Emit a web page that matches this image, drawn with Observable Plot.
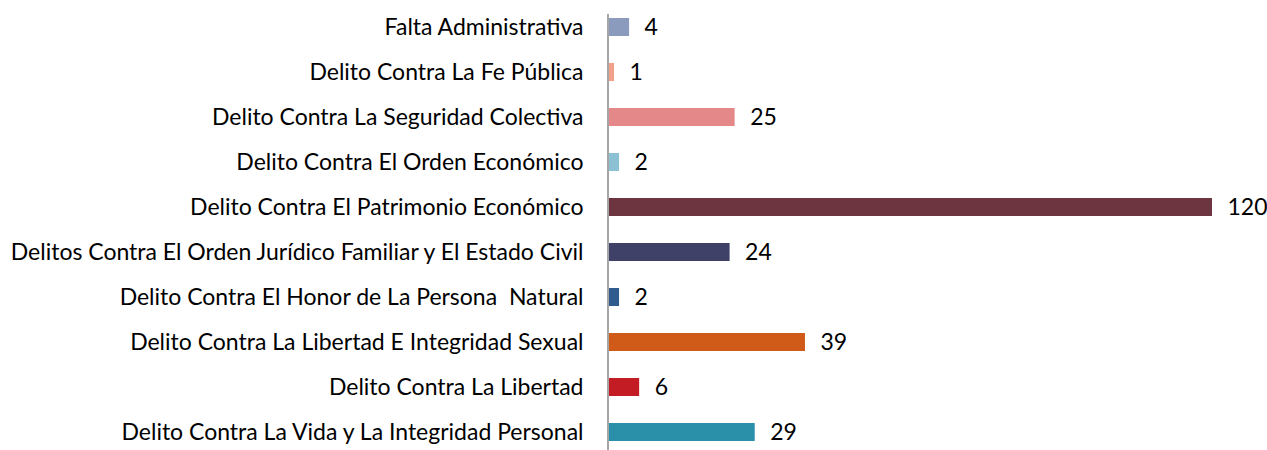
<!DOCTYPE html>
<html>
<head>
<meta charset="utf-8">
<script src="https://cdn.jsdelivr.net/npm/d3@7"></script>
<script src="https://cdn.jsdelivr.net/npm/@observablehq/plot@0.6"></script>
<style>
  html, body { margin: 0; padding: 0; background: #fff; }
  #chart svg { display: block; }
</style>
</head>
<body>
<div id="chart"></div>
<script>
const categories = [
  "Falta Administrativa",
  "Delito Contra La Fe Pública",
  "Delito Contra La Seguridad Colectiva",
  "Delito Contra El Orden Económico",
  "Delito Contra El Patrimonio Económico",
  "Delitos Contra El Orden Jurídico Familiar y El Estado Civil",
  "Delito Contra El Honor de La Persona  Natural",
  "Delito Contra La Libertad E Integridad Sexual",
  "Delito Contra La Libertad",
  "Delito Contra La Vida y La Integridad Personal"
];
const values = [4, 1, 25, 2, 120, 24, 2, 39, 6, 29];
const colors = ["#8a9bbd", "#f2a08a", "#e4888a", "#8bc1d2", "#6d3540", "#3f4168", "#2f5b8f", "#d05a18", "#c41c24", "#2a8fa9"];

const data = categories.map((c, i) => ({category: c, value: values[i], color: colors[i]}));

const font = "Lato, 'Liberation Sans', sans-serif";

const chart = Plot.plot({
  width: 1267,
  height: 450,
  marginLeft: 609,
  marginRight: 55,
  marginTop: 16,
  marginBottom: 8,
  style: {fontFamily: font, fontSize: "23px", color: "#000", background: "#fff"},
  x: {domain: [0, 120], axis: null},
  y: {domain: categories, paddingInner: 0.6, paddingOuter: 0, label: null},
  marks: [
    Plot.axisY({tickSize: 0, tickPadding: 26, fontSize: 23, fill: "#000", label: null}),
    Plot.barX(data, {x: "value", y: "category", fill: "color"}),
    Plot.text(data, {x: "value", y: "category", text: d => String(d.value), textAnchor: "start", dx: 15, fontSize: 23, fill: "#000"}),
    Plot.ruleX([0], {stroke: "#a6a6a6", strokeWidth: 2, dx: -1.5, insetTop: -2, insetBottom: -8})
  ]
});
document.getElementById("chart").appendChild(chart);
</script>
</body>
</html>
